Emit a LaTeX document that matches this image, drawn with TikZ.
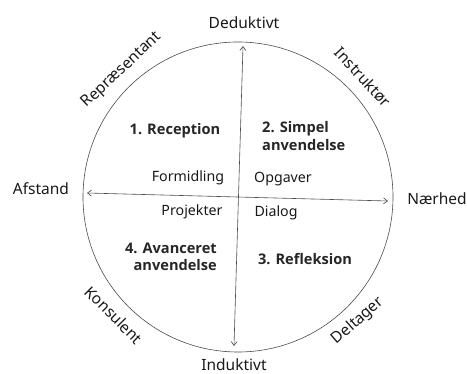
\documentclass[tikz,border=0pt]{standalone}
\usepackage{fontspec}
\setmainfont{Noto Sans}
\newfontfamily\quadfont{Open Sans}
\usetikzlibrary{arrows.meta}
\begin{document}
\begin{tikzpicture}[x=1pt,y=-1pt,
  lbl/.style={font=\fontsize{14.2}{16}\selectfont, text=black!90, inner sep=0pt},
  outer/.style={font=\fontsize{15.5}{17}\selectfont, text=black!90, inner sep=0pt},
  quad/.style={font=\quadfont\fontsize{14.6}{17.5}\selectfont\bfseries, text=black!85, inner sep=0pt},
  axis/.style={draw=black!70, line width=0.6pt, {Straight Barb[length=4pt,width=6pt]}-{Straight Barb[length=4pt,width=6pt]}}]
\useasboundingbox (0,0) rectangle (467,374);
\fill[white] (0,0) rectangle (467,374);
% circle
\node[circle, draw=black!70, line width=0.6pt, minimum size=310pt, inner sep=0pt] (c) at (238,197) {};
% axis end points
\coordinate (top) at (243,46);
\coordinate (bot) at (234,346);
\coordinate (lft) at (87,193);
\coordinate (rgt) at (388,201);
\draw[axis] (bot) -- (top);
\draw[axis] (lft) -- (rgt);
% axis labels
\node[outer] (ded) at (244,23) {Deduktivt};
\node[outer] (ind) at (234,365) {Induktivt};
\node[outer] (afs) at (41,189) {Afstand};
\node[outer] (naer) at (437,199) {Nærhed};
% role labels
\node[outer, rotate=43] (rep) at (122,70) {Repræsentant};
\node[outer, rotate=-47] (ins) at (363,77) {Instruktør};
\node[outer, rotate=-45] (kon) at (114,315) {Konsulent};
\node[outer, rotate=41] (del) at (358,321) {Deltager};
% inner labels
\node[lbl] (for) at (188,178) {Formidling};
\node[lbl] (opg) at (283,179) {Opgaver};
\node[lbl] (pro) at (192,212) {Projekter};
\node[lbl] (dia) at (276,213) {Dialog};
% quadrant titles
\node[quad] (q1) at (175,131) {1. Reception};
\node[quad, anchor=west, align=left] (q2) at (262,136) {2. Simpel\\anvendelse};
\node[quad, anchor=east, align=right] (q4) at (217,257) {4. Avanceret\\anvendelse};
\node[quad] (q3) at (305,259) {3. Refleksion};
\end{tikzpicture}
\end{document}
